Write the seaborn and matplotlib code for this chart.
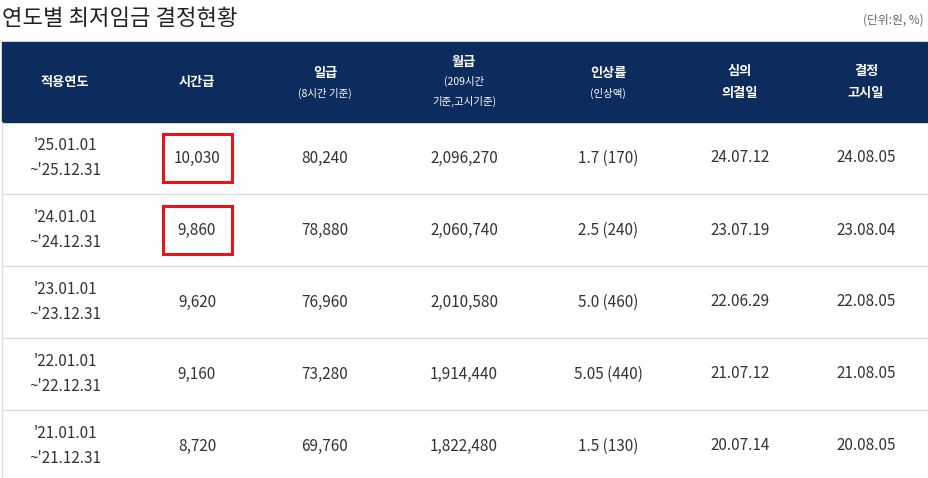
import matplotlib
matplotlib.use("Agg")
import matplotlib.pyplot as plt
import seaborn as sns
from matplotlib.patches import Rectangle

sns.set_theme(style="white", font="Noto Sans CJK KR")

title = "연도별 최저임금 결정현황"
unit = "(단위:원, %)"
headers = [("적용연도", ""), ("시간급", ""), ("일급", "(8시간 기준)"),
           ("월급", "(209시간\n기준,고시기준)"), ("인상률", "(인상액)"),
           ("심의\n의결일", ""), ("결정\n고시일", "")]
periods = ["'25.01.01\n~'25.12.31", "'24.01.01\n~'24.12.31", "'23.01.01\n~'23.12.31",
           "'22.01.01\n~'22.12.31", "'21.01.01\n~'21.12.31"]
hourly = ["10,030", "9,860", "9,620", "9,160", "8,720"]
daily = ["80,240", "78,880", "76,960", "73,280", "69,760"]
monthly = ["2,096,270", "2,060,740", "2,010,580", "1,914,440", "1,822,480"]
rate = ["1.7 (170)", "2.5 (240)", "5.0 (460)", "5.05 (440)", "1.5 (130)"]
decided = ["24.07.12", "23.07.19", "22.06.29", "21.07.12", "20.07.14"]
notified = ["24.08.05", "23.08.04", "22.08.05", "21.08.05", "20.08.05"]
highlight = [True, True, False, False, False]

fig = plt.figure(figsize=(9.29, 4.78), dpi=100)
ax = fig.add_axes([0, 0, 1, 1])
ax.set_xlim(0, 929); ax.set_ylim(478, 0); ax.axis("off")

ax.text(2, 18, title, fontsize=16, fontweight="medium", color="#222222", va="center", ha="left")
ax.text(924, 20, unit, fontsize=8.5, color="#666666", va="center", ha="right")

ax.add_patch(Rectangle((2, 42), 925, 80, color="#0d2c5e"))
xs = [65, 197, 325, 464, 608, 740, 866]
for x, (h, sub) in zip(xs, headers):
    if sub:
        nsub = sub.count("\n") + 1
        if nsub == 1:
            ax.text(x, 73, h, fontsize=9.5, fontweight="bold", color="white", ha="center", va="center")
            ax.text(x, 93, sub, fontsize=7.5, color="white", ha="center", va="center")
        else:
            ax.text(x, 62, h, fontsize=9.5, fontweight="bold", color="white", ha="center", va="center")
            ax.text(x, 91, sub, fontsize=7.5, color="white", ha="center", va="center", linespacing=2.0)
    else:
        ax.text(x, 82, h, fontsize=9.5, fontweight="bold", color="white", ha="center", va="center", linespacing=1.7)

row_h = 72
for i in range(len(periods)):
    top = 122 + i * row_h
    cy = top + row_h / 2
    vals = [periods[i], hourly[i], daily[i], monthly[i], rate[i], decided[i], notified[i]]
    for x, v in zip(xs, vals):
        ax.text(x, cy, v, fontsize=11, color="#333333", ha="center", va="center", linespacing=1.6)
    ax.plot([2, 927], [top + row_h, top + row_h], color="#dddddd", lw=1)
    if highlight[i]:
        ax.add_patch(Rectangle((163, cy - 24), 69, 48, fill=False, ec="#e8141b", lw=2.2))
ax.plot([2, 2], [122, 478], color="#dddddd", lw=1)

fig.savefig("out.png", dpi=100)
